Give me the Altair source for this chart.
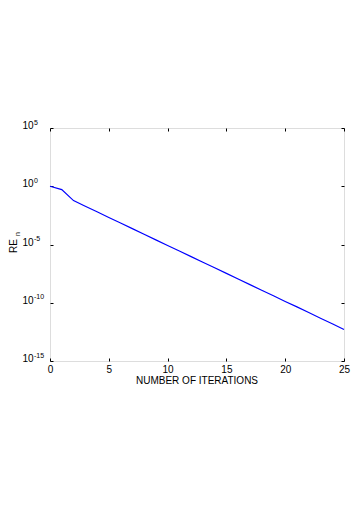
import altair as alt
import pandas as pd

# ---- data ----
iterations = [0, 1, 2, 3, 4, 5, 6, 7, 8, 9, 10, 11, 12, 13, 14, 15, 16, 17, 18, 19, 20, 21, 22, 23, 24, 25]
re_values = [1.0, 0.52, 0.059, 1.95e-2, 6.5e-3, 2.1e-3, 7.1e-4, 2.3e-4, 7.6e-5, 2.5e-5,
             8.3e-6, 2.8e-6, 9.1e-7, 3.0e-7, 1.0e-7, 3.3e-8, 1.1e-8, 3.6e-9, 1.2e-9,
             4.0e-10, 1.3e-10, 4.4e-11, 1.45e-11, 4.7e-12, 1.55e-12, 5.1e-13]
x_ticks = [0, 5, 10, 15, 20, 25]
y_ticks = [1e5, 1e0, 1e-5, 1e-10, 1e-15]
y_exponents = ["5", "0", "-5", "-10", "-15"]
x_title = "NUMBER OF ITERATIONS"
y_title_main = "RE"
y_title_sub = "n"

FONT = "Liberation Sans"
W, H = 294, 233

df = pd.DataFrame({"it": iterations, "re": re_values})
ticks_df = pd.DataFrame({"v": y_ticks, "base": ["10"] * len(y_ticks), "exp": y_exponents})
one = pd.DataFrame({"a": [0]})

xscale = alt.Scale(domain=[0, 25], nice=False, zero=False)
yscale = alt.Scale(type="log", domain=[1e-15, 1e5], nice=False)

axis_common = dict(tickSize=3, offset=-3, domain=False, grid=False, tickColor="#000",
                   tickWidth=1, title=None)

line = alt.Chart(df).mark_line(color="#0000ff", strokeWidth=1.2).encode(
    x=alt.X("it:Q", scale=xscale,
            axis=alt.Axis(orient="bottom", values=x_ticks, labelFont=FONT, labelFontSize=10,
                          labelColor="#000", labelPadding=3, labelFlush=False, format="d",
                          **axis_common)),
    y=alt.Y("re:Q", scale=yscale,
            axis=alt.Axis(orient="left", values=y_ticks, labels=False, **axis_common)),
)

frame_axes = alt.Chart(df).mark_line(opacity=0).encode(
    x=alt.X("it:Q", scale=xscale,
            axis=alt.Axis(orient="top", values=x_ticks, labels=False, **axis_common)),
    y=alt.Y("re:Q", scale=yscale,
            axis=alt.Axis(orient="right", values=y_ticks, labels=False, **axis_common)),
)

base_lbl = alt.Chart(ticks_df).mark_text(
    font=FONT, fontSize=10, align="right", baseline="alphabetic", color="#000", dy=1
).encode(
    x=alt.value(-16.5),
    y=alt.Y("v:Q", scale=yscale, axis=None),
    text="base:N",
)

exp_lbl = alt.Chart(ticks_df).mark_text(
    font=FONT, fontSize=7, align="left", baseline="alphabetic", color="#000", dy=-3.5
).encode(
    x=alt.value(-16),
    y=alt.Y("v:Q", scale=yscale, axis=None),
    text="exp:N",
)

xtitle = alt.Chart(one).mark_text(
    font=FONT, fontSize=10, align="center", baseline="middle", color="#000"
).encode(x=alt.value(W / 2), y=alt.value(253), text=alt.value(x_title))

ytitle = alt.Chart(one).mark_text(
    font=FONT, fontSize=10, align="center", baseline="middle", angle=270, color="#000"
).encode(x=alt.value(-36), y=alt.value(118), text=alt.value(y_title_main))

ysub = alt.Chart(one).mark_text(
    font=FONT, fontSize=7, align="center", baseline="middle", angle=270, color="#000"
).encode(x=alt.value(-32.5), y=alt.value(106), text=alt.value(y_title_sub))

chart = alt.layer(line, frame_axes, base_lbl, exp_lbl, xtitle, ytitle, ysub).resolve_axis(
    x="independent", y="independent"
).properties(
    width=W, height=H,
    autosize=alt.AutoSizeParams(type="none"),
    padding={"left": 42, "top": 120, "right": 8, "bottom": 140},
).configure_view(stroke="#000", strokeWidth=1).configure(background="white")

chart.save("out.html", embed_options={"renderer": "svg", "actions": False})
